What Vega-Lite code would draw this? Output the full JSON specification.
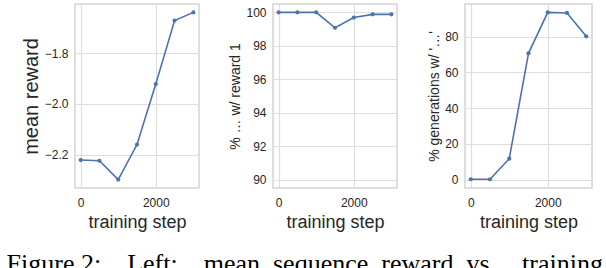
{
  "$schema": "https://vega.github.io/schema/vega-lite/v6.json",
  "padding": {"left": 6, "top": 3, "right": 8, "bottom": 0},
  "background": "white",
  "datasets": {
    "reward": [
      {"step": 0, "value": -2.221},
      {"step": 500, "value": -2.224},
      {"step": 1000, "value": -2.298},
      {"step": 1500, "value": -2.16},
      {"step": 2000, "value": -1.922},
      {"step": 2500, "value": -1.672},
      {"step": 3000, "value": -1.64}
    ],
    "pct1": [
      {"step": 0, "value": 100},
      {"step": 500, "value": 100},
      {"step": 1000, "value": 100},
      {"step": 1500, "value": 99.08},
      {"step": 2000, "value": 99.69},
      {"step": 2500, "value": 99.88},
      {"step": 3000, "value": 99.88}
    ],
    "gen": [
      {"step": 0, "value": 0.2},
      {"step": 500, "value": 0.2},
      {"step": 1000, "value": 11.7},
      {"step": 1500, "value": 70.7},
      {"step": 2000, "value": 93.6},
      {"step": 2500, "value": 93.3},
      {"step": 3000, "value": 80.2}
    ]
  },
  "title": {
    "text": "Figure 2:\u2003Left:\u2003mean\u2002sequence\u2002reward\u2002vs.\u2003training",
    "orient": "bottom",
    "anchor": "start",
    "font": "Liberation Serif",
    "fontSize": 26,
    "fontWeight": "normal",
    "color": "#000000",
    "offset": 19,
    "dx": -14
  },
  "spacing": 28,
  "hconcat": [
    {
      "width": 124,
      "height": 184,
      "data": {"name": "reward"},
      "mark": {"type": "line", "point": {"filled": true, "size": 18}, "color": "#4c72b0", "strokeWidth": 1.6},
      "encoding": {
        "x": {"field": "step", "type": "quantitative", "scale": {"domain": [-150, 3150], "nice": false},
              "axis": {"values": [0, 2000], "format": "d", "title": "training step"}},
        "y": {"field": "value", "type": "quantitative", "scale": {"domain": [-2.331, -1.607], "nice": false, "zero": false},
              "axis": {"values": [-2.2, -2.0, -1.8], "format": ".1f", "title": "mean reward", "titleFontSize": 20}}
      }
    },
    {
      "width": 124,
      "height": 184,
      "data": {"name": "pct1"},
      "mark": {"type": "line", "point": {"filled": true, "size": 18}, "color": "#4c72b0", "strokeWidth": 1.6},
      "encoding": {
        "x": {"field": "step", "type": "quantitative", "scale": {"domain": [-150, 3150], "nice": false},
              "axis": {"values": [0, 2000], "format": "d", "title": "training step"}},
        "y": {"field": "value", "type": "quantitative", "scale": {"domain": [89.5, 100.5], "nice": false, "zero": false},
              "axis": {"values": [90, 92, 94, 96, 98, 100], "title": "% \u2026 w/ reward 1", "titleFontSize": 14}}
      }
    },
    {
      "width": 127,
      "height": 184,
      "data": {"name": "gen"},
      "mark": {"type": "line", "point": {"filled": true, "size": 18}, "color": "#4c72b0", "strokeWidth": 1.6},
      "encoding": {
        "x": {"field": "step", "type": "quantitative", "scale": {"domain": [-150, 3150], "nice": false},
              "axis": {"values": [0, 2000], "format": "d", "title": "training step"}},
        "y": {"field": "value", "type": "quantitative", "scale": {"domain": [-4.7, 98.3], "nice": false, "zero": false},
              "axis": {"values": [0, 20, 40, 60, 80], "title": "% generations w/ '\u2026'", "titleFontSize": 14, "titleLimit": 300}}
      }
    }
  ],
  "config": {
    "view": {"stroke": "#d4d4d4", "strokeWidth": 1.5},
    "axis": {
      "domain": false,
      "ticks": false,
      "grid": true,
      "gridColor": "#dedede",
      "gridWidth": 1.2,
      "labelFont": "Liberation Sans",
      "labelFontSize": 12,
      "labelColor": "#262626",
      "labelPadding": 7,
      "titleFont": "Liberation Sans",
      "titleFontWeight": "normal",
      "titleColor": "#262626",
      "titleFontSize": 18,
      "titlePadding": 3,
      "titleLimit": 300
    },
    "axisX": {"labelPadding": 9, "titlePadding": 5}
  }
}
